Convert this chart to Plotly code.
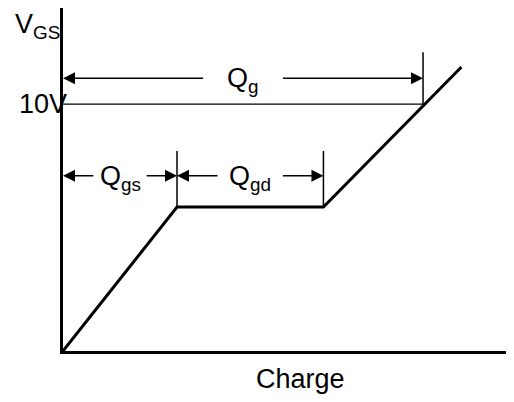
import plotly.graph_objects as go

# gate charge curve (schematic units)
charge = [0, 9.5, 21.7, 33.2]
vgs = [0, 5.83, 5.83, 11.5]

# dimension markers
q_gs_end = 9.5
q_gd_end = 21.7
q_g_end = 30
v_drive = 10
qg_arrow_y = 11.05
qg_tick_top = 12.1
qsub_arrow_y = 7.1
qsub_tick_top = 8.1

font = dict(family="Liberation Sans, Arial", size=27, color="black")

fig = go.Figure()

# VGS vs charge curve
fig.add_trace(go.Scatter(x=charge, y=vgs, mode="lines",
                         line=dict(color="black", width=3),
                         hoverinfo="skip", showlegend=False))

# 10V reference line and vertical markers
line_thin = dict(color="black", width=1.5)
fig.add_shape(type="line", x0=0, x1=q_g_end, y0=v_drive, y1=v_drive,
              line=dict(color="black", width=1.2))
fig.add_shape(type="line", x0=q_g_end, x1=q_g_end, y0=v_drive, y1=qg_tick_top,
              line=line_thin)
fig.add_shape(type="line", x0=q_gs_end, x1=q_gs_end, y0=vgs[1], y1=qsub_tick_top,
              line=line_thin)
fig.add_shape(type="line", x0=q_gd_end, x1=q_gd_end, y0=vgs[2], y1=qsub_tick_top,
              line=line_thin)


# dimension arrows: two arrows from a gap around the label to each end
def dim_arrow(x_start, x_end, y, label, half_gap):
    mid = (x_start + x_end) / 2
    for tip, tail in [(x_start, mid - half_gap), (x_end, mid + half_gap)]:
        fig.add_annotation(x=tip, y=y, ax=tail, ay=y, axref="x", ayref="y",
                           text="", showarrow=True, arrowhead=2, arrowsize=1.6,
                           arrowwidth=1.5, arrowcolor="black", standoff=0)
    fig.add_annotation(x=mid, y=y, text=label, showarrow=False, font=font,
                       yanchor="middle", yshift=-2)


dim_arrow(0, q_g_end, qg_arrow_y, "Q<sub>g</sub>", 3.2)
dim_arrow(0, q_gs_end, qsub_arrow_y, "Q<sub>gs</sub>", 2.1)
dim_arrow(q_gs_end, q_gd_end, qsub_arrow_y, "Q<sub>gd</sub>", 2.6)

# axis labels
fig.add_annotation(x=0, y=13.15, text="V<sub>GS</sub>", showarrow=False,
                   font=font, xanchor="right", xshift=-1)
fig.add_annotation(x=0, y=v_drive, text="10V", showarrow=False,
                   font=font, xanchor="right", xshift=6)
fig.add_annotation(x=19.8, y=0, text="Charge", showarrow=False,
                   font=font, yanchor="top", yshift=-11)

fig.update_xaxes(range=[0, 39.58], showline=True, linecolor="black", linewidth=3,
                 showgrid=False, zeroline=False, showticklabels=False, ticks="")
fig.update_yaxes(range=[0, 13.89], showline=True, linecolor="black", linewidth=3,
                 showgrid=False, zeroline=False, showticklabels=False, ticks="")
fig.update_layout(width=530, height=402,
                  margin=dict(l=55, r=0, t=0, b=59),
                  plot_bgcolor="white", paper_bgcolor="white")

fig.write_html("out.html")
